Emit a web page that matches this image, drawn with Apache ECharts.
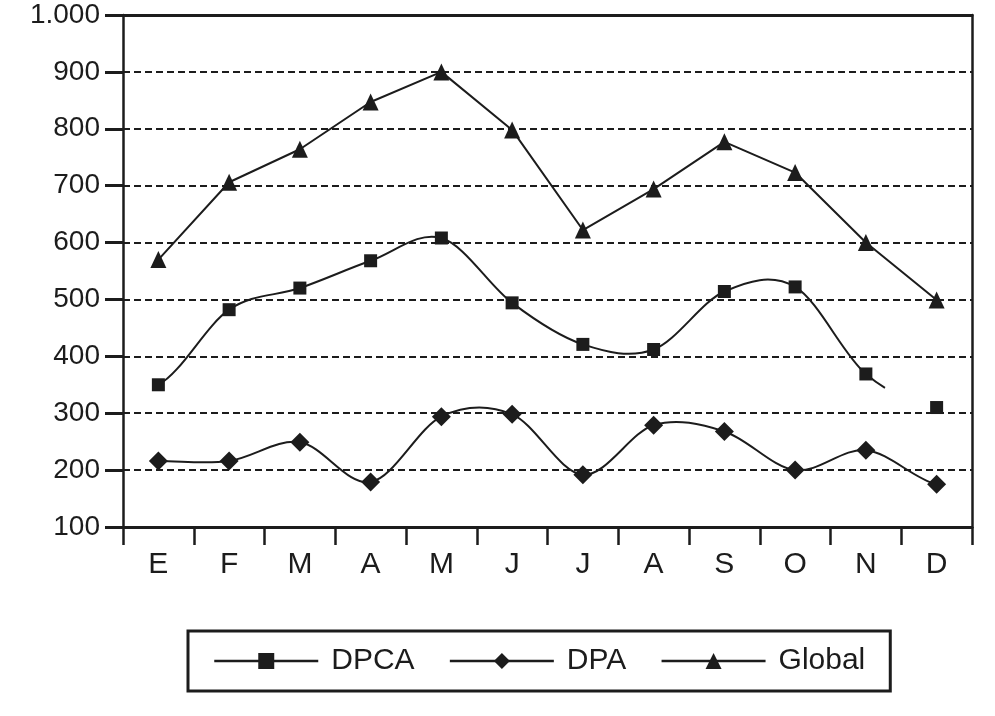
<!DOCTYPE html>
<html>
<head>
<meta charset="utf-8">
<script src="https://cdn.jsdelivr.net/npm/echarts@6/dist/echarts.min.js"></script>
<style>html,body{margin:0;padding:0;background:#fff}#c{width:995px;height:716px}</style>
</head>
<body>
<div id="c"></div>
<script>
const months = ['E','F','M','A','M','J','J','A','S','O','N','D'];
const dpca = [350, 482, 520, 568, 608, 494, 421, 412, 514, 522, 369, 310];
const dpa = [216, 216, 249, 179, 294, 298, 192, 279, 268, 200, 235, 175];
const global = [570, 706, 764, 847, 900, 798, 622, 694, 777, 723, 600, 499];
const yTickLabels = {100:'100',200:'200',300:'300',400:'400',500:'500',600:'600',700:'700',800:'800',900:'900',1000:'1.000'};

const INK = '#1c1c1c';
const FONT = "'Liberation Sans', Arial, sans-serif";
const chart = echarts.init(document.getElementById('c'), null, {renderer:'canvas'});

// Smoothed (Catmull-Rom style) curve drawn segment by segment through the axes
function curveSeries(name, vals, lastFull, stubFraction) {
  return {
    name: name, type: 'custom', z: 1,
    data: vals.map((v, i) => [i, v]),
    encode: {x: 0, y: 1},
    silent: true,
    renderItem: function (params, api) {
      const i = params.dataIndex;
      const n = vals.length;
      if (i >= n - 1) return null;
      if (i > lastFull && !(i === lastFull + 1 && stubFraction)) return null;
      const P = k => api.coord([k, vals[Math.max(0, Math.min(n - 1, k))]]);
      const p0 = P(i - 1), p1 = P(i), p2 = P(i + 1), p3 = P(i + 2);
      let c1 = [p1[0] + (p2[0] - p0[0]) / 6, p1[1] + (p2[1] - p0[1]) / 6];
      let c2 = [p2[0] - (p3[0] - p1[0]) / 6, p2[1] - (p3[1] - p1[1]) / 6];
      let a = p1, b = p2;
      if (i === lastFull + 1) {
        const t = stubFraction;
        const L = (u, v) => [u[0] + (v[0] - u[0]) * t, u[1] + (v[1] - u[1]) * t];
        const q1 = L(p1, c1), q2 = L(c1, c2), q3 = L(c2, p2);
        const r1 = L(q1, q2), r2 = L(q2, q3);
        const s = L(r1, r2);
        c1 = q1; c2 = r1; b = s;
      }
      return {
        type: 'bezierCurve',
        shape: {x1: a[0], y1: a[1], x2: b[0], y2: b[1], cpx1: c1[0], cpy1: c1[1], cpx2: c2[0], cpy2: c2[1]},
        style: {stroke: INK, lineWidth: 2, fill: null}
      };
    }
  };
}

chart.setOption({
  animation: false,
  backgroundColor: '#fff',
  textStyle: {fontFamily: FONT, color: INK},
  grid: {left: 123, right: 23, top: 15, bottom: 189, containLabel: false},
  legend: {
    left: 188, top: 631,
    padding: [15, 25, 15, 25],
    itemGap: 34, itemWidth: 104, itemHeight: 20,
    borderColor: INK, borderWidth: 3,
    lineStyle: {color: INK, width: 2.5, opacity: 1, type: 'solid'},
    itemStyle: {color: INK, opacity: 1},
    textStyle: {fontSize: 30, color: INK, fontFamily: FONT, padding: [0, 0, 0, 8]},
    data: ['DPCA','DPA','Global']
  },
  xAxis: [{
    type: 'category', data: months, boundaryGap: true,
    axisLine: {show: true, lineStyle: {color: INK, width: 3}},
    axisTick: {show: true, inside: false, length: 18, lineStyle: {color: INK, width: 2.5}},
    axisLabel: {fontSize: 30, color: INK, margin: 23, fontFamily: FONT},
    splitLine: {show: false}
  },{
    type: 'category', data: months, position: 'top',
    axisLine: {show: true, lineStyle: {color: INK, width: 3}},
    axisTick: {show: false}, axisLabel: {show: false}, splitLine: {show: false}
  }],
  yAxis: [{
    type: 'value', min: 100, max: 1000, interval: 100,
    axisLine: {show: true, lineStyle: {color: INK, width: 2.5}},
    axisTick: {show: true, inside: false, length: 18, lineStyle: {color: INK, width: 3}},
    axisLabel: {fontSize: 28, color: INK, margin: 23, fontFamily: FONT, formatter: v => yTickLabels[v] || String(v)},
    splitLine: {show: true, lineStyle: {color: INK, width: 2, type: [7,4]}}
  },{
    type: 'value', min: 100, max: 1000, interval: 100, position: 'right',
    axisLine: {show: true, lineStyle: {color: INK, width: 2.5}},
    axisTick: {show: false}, axisLabel: {show: false}, splitLine: {show: false}
  }],
  series: [
    curveSeries('DPCA curve', dpca, 9, 0.27),
    curveSeries('DPA curve', dpa, 10, 0),
    {name: 'DPCA', type: 'line', data: dpca, symbol: 'rect', symbolSize: 13, z: 3,
     lineStyle: {color: INK, width: 2, opacity: 0}, itemStyle: {color: INK}},
    {name: 'DPA', type: 'line', data: dpa, symbol: 'diamond', symbolSize: [19,19], z: 3,
     lineStyle: {color: INK, width: 2, opacity: 0}, itemStyle: {color: INK}},
    {name: 'Global', type: 'line', data: global, smooth: false, symbol: 'triangle', symbolSize: [16,17], z: 3,
     lineStyle: {color: INK, width: 2}, itemStyle: {color: INK}}
  ]
});
</script>
</body>
</html>
